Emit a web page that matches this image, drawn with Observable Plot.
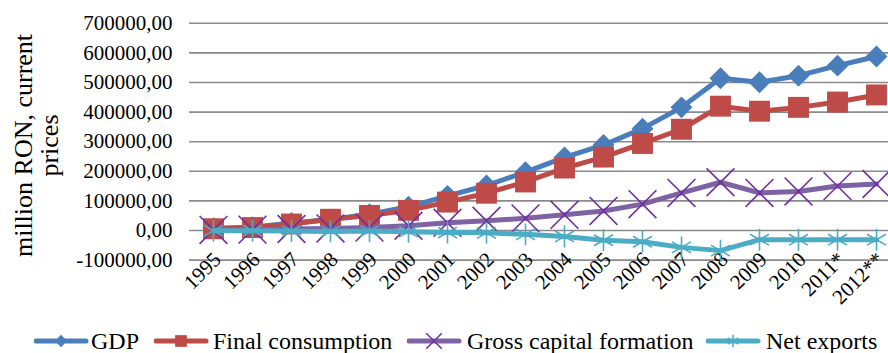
<!DOCTYPE html>
<html><head><meta charset="utf-8">
<script src="https://cdn.jsdelivr.net/npm/d3@7"></script>
<script src="https://cdn.jsdelivr.net/npm/@observablehq/plot@0.6"></script>
<style>
body{margin:0;background:#fff;width:888px;height:353px;overflow:hidden;position:relative;font-family:"Liberation Serif","Times New Roman",serif}
#chart{position:absolute;left:0;top:0}
#legend{position:absolute;top:326px;left:0;width:888px;height:30px}
.item{position:absolute;top:0;height:30px;display:flex;align-items:center;font-size:24px;color:#000;white-space:nowrap;line-height:30px;font-family:"Liberation Serif","Times New Roman",serif}
.sw{position:absolute;top:0}
</style></head><body><div id="chart"></div><div id="legend"></div>
<script>
const years = ["1995","1996","1997","1998","1999","2000","2001","2002","2003","2004","2005","2006","2007","2008","2009","2010","2011*","2012**"];
const gdp = [7700, 11000, 25000, 37000, 55000, 80000, 117000, 152000, 197000, 247000, 289000, 344000, 416000, 514000, 501000, 523000, 557000, 588000];
const finalConsumption = [6000, 10000, 22000, 38000, 51000, 68000, 96000, 126000, 164000, 211000, 248000, 294000, 342000, 420000, 403000, 416000, 434000, 458000];
const grossCapital = [2000, 3000, 5000, 7000, 10000, 16000, 26000, 33000, 41000, 53000, 66000, 89000, 127000, 163000, 127000, 132000, 150000, 157000];
const netExports = [-1000, -1000, -2000, -3000, -2000, -4000, -7000, -8000, -13000, -20000, -33000, -38000, -57000, -68000, -31000, -31000, -31000, -31000];
const seriesNames = ["GDP","Final consumption","Gross capital formation","Net exports"];
const yTicks = [-100000, 0, 100000, 200000, 300000, 400000, 500000, 600000, 700000];
const yTitle = "million RON, current\nprices";

const styles = {
  "GDP": {line:"#4a7ebb", mark:"#4a7ebb", symbol:"diamond2", r:9.9, filled:true},
  "Final consumption": {line:"#be4b48", mark:"#be4b48", symbol:"square", r:11.8, filled:true},
  "Gross capital formation": {line:"#7e62a4", mark:"#7030a0", symbol:"times", r:12.7, filled:false},
  "Net exports": {line:"#4bacc6", mark:"#4bacc6", symbol:"asterisk", r:10.4, filled:false}
};
const valuesBySeries = [gdp, finalConsumption, grossCapital, netExports];
const rows = [];
seriesNames.forEach((s, i) => years.forEach((y, j) => rows.push({series: s, year: y, value: valuesBySeries[i][j]})));

const font = "Liberation Serif, Times New Roman, serif";
const fmt = v => d3.format(".2f")(v).replace(".", ",").replace("−", "-");

const marks = [
  Plot.ruleY(yTicks, {stroke: "#8a8a8a", strokeWidth: 1.6}),
  Plot.axisY({ticks: yTicks, tickSize: 0, tickPadding: 17, tickFormat: fmt, fontSize: 21, fontFamily: font, fill: "#000", label: null}),
  Plot.text(years, {x: d => d, y: -100000, text: d => d, rotate: -45, textAnchor: "end", dx: 4, dy: -4, fontSize: 21, fontFamily: font, fill: "#000"}),
  Plot.text([yTitle], {frameAnchor: "left", text: d => d, rotate: -90, textAnchor: "middle", dx: -153, dy: -10, fontSize: 26, fontFamily: font, fill: "#000", lineHeight: 1.0})
];
seriesNames.forEach(s => {
  const st = styles[s];
  const data = rows.filter(r => r.series === s);
  marks.push(Plot.line(data, {x: "year", y: "value", stroke: st.line, strokeWidth: 5, strokeLinejoin: "round"}));
  if (st.filled) {
    marks.push(Plot.dot(data, {x: "year", y: "value", symbol: st.symbol, r: st.r, fill: st.mark, stroke: "none"}));
  } else {
    marks.push(Plot.dot(data, {x: "year", y: "value", symbol: st.symbol, r: st.r, fill: "none", stroke: st.mark, strokeWidth: 1.6}));
  }
});

const chart = Plot.plot({
  width: 888, height: 310,
  marginLeft: 189, marginRight: 0, marginTop: 0, marginBottom: 0,
  style: {background: "transparent", overflow: "visible"},
  x: {type: "point", domain: years, range: [208.75, 880.25], padding: 0, axis: null},
  y: {domain: [-100000, 700000], range: [259.6, 22.8]},
  marks
});
document.getElementById("chart").appendChild(chart);

// Legend
const legend = document.getElementById("legend");
const symMap = {diamond2: d3.symbolDiamond2, square: d3.symbolSquare, times: d3.symbolTimes, asterisk: d3.symbolAsterisk};
const legendPos = [[34, 91], [154, 213], [407, 467], [706, 766]];
seriesNames.forEach((s, i) => {
  const st = styles[s];
  const [lx, tx] = legendPos[i];
  const svg = d3.create("svg").attr("class", "sw").attr("width", 56).attr("height", 30)
    .style("left", lx + "px");
  svg.append("line").attr("x1", 2).attr("x2", 52).attr("y1", 15).attr("y2", 15)
    .attr("stroke", st.line).attr("stroke-width", 5).attr("stroke-linecap", "round");
  const size = Math.PI * Math.pow(st.r * 0.56, 2);
  const p = svg.append("path").attr("transform", "translate(27,15)")
    .attr("d", d3.symbol(symMap[st.symbol], size)());
  if (st.filled) p.attr("fill", st.mark); else p.attr("fill", "none").attr("stroke", st.mark).attr("stroke-width", 1.5);
  legend.appendChild(svg.node());
  const t = document.createElement("div");
  t.className = "item"; t.style.left = tx + "px"; t.textContent = s;
  legend.appendChild(t);
});
</script></body></html>
